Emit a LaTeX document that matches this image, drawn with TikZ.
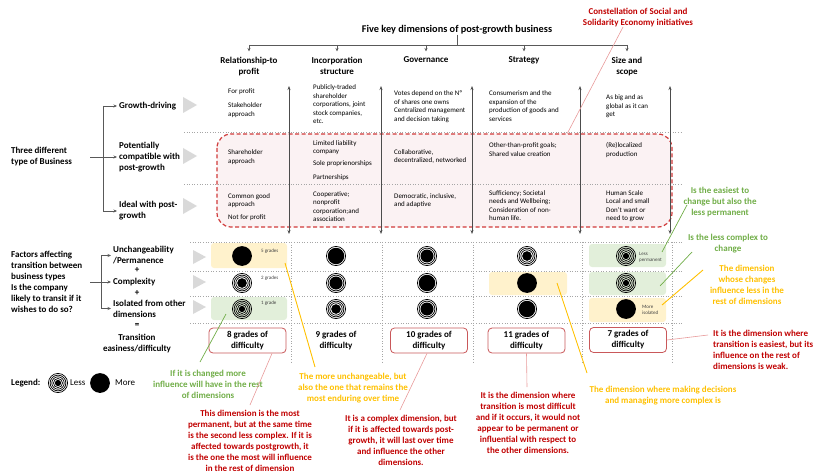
\documentclass[tikz,border=0pt]{standalone}
\usepackage{fontspec}
\setmainfont{Carlito}
\usetikzlibrary{arrows.meta}
\definecolor{txtred}{HTML}{C00000}
\definecolor{txtgreen}{HTML}{70AD47}
\definecolor{txtyellow}{HTML}{FFC000}
\definecolor{dashred}{HTML}{D03A3A}
\definecolor{pinkfill}{HTML}{FBF2F3}
\definecolor{yelfill}{HTML}{FFF2CC}
\definecolor{grnfill}{HTML}{E2EFDA}
\definecolor{boxred}{HTML}{C9585A}
\definecolor{linered}{HTML}{E89A9A}
\definecolor{trigray}{HTML}{D9D9D9}
\definecolor{dotgray}{HTML}{A6A6A6}
\definecolor{treegray}{HTML}{595959}
\tikzset{
  grade/.pic={
    \pgfmathtruncatemacro{\gnr}{5-#1}
    \ifnum\gnr>0
      \foreach \gi in {1,...,\gnr}{
        \pgfmathsetmacro{\grr}{9.6-(\gi-1)*1.7}
        \draw[line width=0.7pt] (0,0) circle[radius=\grr pt];
      }
      \pgfmathsetmacro{\gfr}{9.95-\gnr*1.7}
    \else
      \def\gfr{9.9}
    \fi
    \fill (0,0) circle[radius=\gfr pt];
  }
}
\begin{document}
\begin{tikzpicture}[x=1pt,y=-1pt,
  maintitle/.style={font=\fontsize{10.3}{12.5}\selectfont\bfseries, inner sep=0},
  colhead/.style={font=\fontsize{9}{11}\selectfont\bfseries, align=center, anchor=north, inner sep=0},
  rowlabel/.style={font=\fontsize{9}{11}\selectfont\bfseries, align=left, anchor=west, inner sep=0},
  plainlabel/.style={font=\fontsize{9}{11}\selectfont, anchor=west, inner sep=0},
  celltext/.style={font=\fontsize{7}{8.5}\selectfont, align=left, anchor=base west, inner sep=0},
  gradelabel/.style={font=\fontsize{5}{6.3}\selectfont, align=left, anchor=west, inner sep=0, text=black!75},
  annot/.style={font=\fontsize{9}{11}\selectfont\bfseries, align=center, inner sep=0},
  diffbox/.style={draw=boxred, line width=0.8pt, rounded corners=4pt, fill=white, minimum width=77pt, minimum height=25pt, font=\fontsize{9}{11}\selectfont\bfseries, align=center, inner sep=0},
  treeline/.style={draw=treegray, line width=0.6pt},
  treearrow/.style={treeline, -{Stealth[length=3.5pt,width=3pt]}},
  colarrow/.style={draw=black!70, line width=0.6pt, {Stealth[length=4pt,width=3pt]}-{Stealth[length=4pt,width=3pt]}},
  dotline/.style={draw=dotgray, line width=0.6pt, dotted},
  tri/.style={fill=trigray, draw=none},
  ybox/.style={fill=yelfill, draw=none, rounded corners=3pt},
  gbox/.style={fill=grnfill, draw=none, rounded corners=3pt},
  redline/.style={draw=linered, line width=0.6pt},
  grnline/.style={draw=txtgreen, line width=0.7pt},
  yelline/.style={draw=txtyellow, line width=0.9pt}
]
\useasboundingbox (0,0) rectangle (818,473);

% ---------- dashed area ----------
\draw[dashred, line width=1.2pt, dash pattern=on 4pt off 2.5pt, fill=pinkfill, rounded corners=14pt] (217,134) rectangle (672,227);

% ---------- dotted grid ----------
\foreach \yy in {132,184} \draw[dotline] (184,\yy) -- (683,\yy);
\foreach \yy in {242,271,296,323} \draw[dotline] (190,\yy) -- (683,\yy);
\foreach \xx in {291,382,473,582,672} \draw[dotline] (\xx,242) -- (\xx,362);

% ---------- coloured boxes ----------
\fill[ybox] (211,243) rectangle (287,268);
\fill[gbox] (211,297) rectangle (287,320);
\fill[ybox] (489,272) rectangle (567,295);
\fill[gbox] (589,244) rectangle (666,267);
\fill[gbox] (589,272) rectangle (666,295);
\fill[ybox] (589,298) rectangle (666,322);

% ---------- column arrows ----------
\foreach \xx in {289,381,472,580,670} \draw[colarrow] (\xx,86) -- (\xx,234);

% ---------- triangles ----------
\foreach \yy in {105,156,206} \fill[tri] (183,\yy-8) -- (197,\yy) -- (183,\yy+8) -- cycle;
\foreach \yy in {257,282,307} \fill[tri] (193,\yy-7) -- (206,\yy) -- (193,\yy+7) -- cycle;

% ---------- title and headers ----------
\node[maintitle] (title) at (457,30) {Five key dimensions of post-growth business};
\coordinate (tj) at (457,45);
\draw[treeline] (title.south) -- (tj);
\node[colhead] (h1) at (249,56.5) {Relationship-to\\profit};
\node[colhead] (h2) at (337,56.5) {Incorporation\\structure};
\node[colhead] (h3) at (426,56.5) {Governance};
\node[colhead] (h4) at (524,56.5) {Strategy};
\node[colhead] (h5) at (627,56.5) {Size and\\scope};
\draw[treeline] (h1.north |- tj) -- (h5.north |- tj);
\foreach \hh in {h1,h2,h3,h4,h5} \draw[treearrow, shorten >=5pt] (\hh.north |- tj) -- (\hh.north);

% ---------- left labels ----------
\node[rowlabel] (three) at (11,157) {Three different\\type of Business};
\node[rowlabel] (gd) at (119,106) {Growth-driving};
\node[rowlabel] (pc) at (119,157) {Potentially\\compatible with\\post-growth};
\node[rowlabel] (iw) at (119,211) {Ideal with post-\\growth};
\coordinate (t0) at (90,157);
\coordinate (tm) at (103,157);
\draw[treeline] (t0) -- (tm);
\draw[treeline] (gd.west -| tm) -- (iw.west -| tm);
\foreach \nn in {gd,pc,iw} \draw[treearrow] (\nn.west -| tm) -- ([xshift=-2]\nn.west);

\node[rowlabel] (fac) at (11,282) {Factors affecting\\transition between\\business types\\Is the company\\likely to transit if it\\wishes to do so?};
\node[rowlabel] (unch) at (113,255.5) {Unchangeability\\/Permanence};
\node[annot] (plus1) at (137,270) {+};
\node[rowlabel] (cplx) at (113,282) {Complexity};
\node[annot] (plus2) at (137,293) {+};
\node[rowlabel] (isol) at (113,308.5) {Isolated from other\\dimensions};
\node[annot] (eqs) at (137,325) {=};
\node[annot] (trans) at (137,343.5) {Transition\\easiness/difficulty};
\coordinate (f0) at (90,282);
\coordinate (fm) at (101,282);
\draw[treeline] (f0) -- (fm);
\draw[treeline] (unch.west -| fm) -- (isol.west -| fm);
\foreach \nn in {unch,cplx,isol} \draw[treearrow] (\nn.west -| fm) -- ([xshift=-2]\nn.west);

% ---------- cells: growth-driving (base = last line) ----------
\node[celltext] (g1a) at (228,94) {For profit};
\node[celltext] (g1b) at (228,116.5) {Stakeholder\\approach};
\node[celltext] (g2) at (313,124) {Publicly-traded\\shareholder\\corporations, joint\\stock companies,\\etc.};
\node[celltext] (g3) at (394,121.5) {Votes depend on the Nº\\of shares one owns\\Centralized management\\and decision taking};
\node[celltext] (g4) at (489,121.5) {Consumerism and the\\expansion of the\\production of goods and\\services};
\node[celltext] (g5) at (606,117) {As big and as\\global as it can\\get};

% ---------- cells: potentially compatible ----------
\node[celltext] (p1) at (228,163.5) {Shareholder\\approach};
\node[celltext] (p2a) at (313,153.5) {Limited liability\\company};
\node[celltext] (p2b) at (313,165) {Sole proprienorships};
\node[celltext] (p2c) at (313,179) {Partnerships};
\node[celltext] (p3) at (394,162.5) {Collaborative,\\decentralized, networked};
\node[celltext] (p4) at (489,156.5) {Other-than-profit goals;\\Shared value creation};
\node[celltext] (p5) at (606,156.5) {(Re)localized\\production};

% ---------- cells: ideal ----------
\node[celltext] (i1a) at (228,206.5) {Common good\\approach};
\node[celltext] (i1b) at (228,219) {Not for profit};
\node[celltext] (i2) at (313,221.5) {Cooperative;\\nonprofit\\corporation;and\\association};
\node[celltext] (i3) at (394,206.5) {Democratic, inclusive,\\and adaptive};
\node[celltext] (i4) at (489,220.5) {Sufficiency; Societal\\needs and Wellbeing;\\Consideration of non-\\human life.};
\node[celltext] (i5) at (606,220.5) {Human Scale\\Local and small\\Don't want or\\need to grow};

% ---------- grade symbols ----------
\pic at (242,256) {grade=5};
\pic at (242,283) {grade=2};
\pic at (242,309) {grade=1};
\pic at (336,256) {grade=4};
\pic at (336,283) {grade=3};
\pic at (336,309) {grade=2};
\pic at (427,256) {grade=3};
\pic at (427,283) {grade=4};
\pic at (427,309) {grade=3};
\pic at (527,256) {grade=2};
\pic at (527,283) {grade=5};
\pic at (527,309) {grade=4};
\pic at (626,256) {grade=1};
\pic at (626,283) {grade=1};
\pic at (626,309) {grade=5};
\node[gradelabel] (gl5) at (261,251) {5 grades};
\node[gradelabel] (gl2) at (261,278) {2 grades};
\node[gradelabel] (gl1) at (261,303) {1 grade};
\node[gradelabel] (glless) at (639,257) {Less\\permanent};
\node[gradelabel] (glmore) at (642,310) {More\\isolated};

% ---------- difficulty ----------
\node[diffbox] (d1) at (247.5,340.5) {8 grades of\\difficulty};
\node[diffbox, draw=none, fill=none] (d2) at (336,340.5) {9 grades of\\difficulty};
\node[diffbox] (d3) at (429,340.5) {10 grades of\\difficulty};
\node[diffbox] (d4) at (526.5,340.5) {11 grades of\\difficulty};
\node[diffbox] (d5) at (628,340) {7 grades of\\difficulty};

% ---------- legend ----------
\node[rowlabel] (leg) at (11,383) {Legend:};
\pic at (58,383) {grade=1};
\node[plainlabel] (less) at (70,383) {Less};
\pic at (100,383) {grade=5};
\node[plainlabel] (more) at (115,383) {More};

% ---------- annotations ----------
\node[annot, text=txtred] (const) at (638,17.5) {Constellation of Social and\\Solidarity Economy initiatives};
\coordinate (constend) at (567,134);
\draw[redline] ([xshift=-15]const.south) -- (constend);

\node[annot, text=txtgreen] (ag1) at (720,202) {Is the easiest to\\change but also the\\less permanent};
\coordinate (ag1s) at (687,205); \coordinate (ag1e) at (662,252);
\draw[grnline] (ag1s) -- (ag1e);

\node[annot, text=txtgreen] (ag2) at (728,243.5) {Is the less complex to\\change};
\coordinate (ag2s) at (692,252); \coordinate (ag2e) at (660,286);
\draw[grnline] (ag2s) -- (ag2e);

\node[annot, text=txtyellow] (ay1) at (747,284.5) {The dimension\\whose changes\\influence less in the\\rest of dimensions};
\coordinate (ay1s) at (703,270); \coordinate (ay1e) at (662,305);
\draw[yelline] (ay1s) -- (ay1e);

\node[annot, text=txtred, align=left, anchor=west] (ar5) at (713,350) {It is the dimension where\\transition is easiest, but its\\influence on the rest of\\dimensions is weak.};
\coordinate (ar5s) at (708,335);
\draw[redline] (ar5s) -- (d5.east);

\node[annot, text=txtgreen] (ag3) at (208,384) {If it is changed more\\influence will have in the rest\\of dimensions};
\coordinate (ag3s) at (200,362); \coordinate (ag3e) at (226,314);
\draw[grnline] (ag3s) -- (ag3e);

\node[annot, text=txtyellow] (ay2) at (353,388) {The more unchangeable, but\\also the one that remains the\\most enduring over time};
\coordinate (ay2s) at (315,367); \coordinate (ay2e) at (285,263);
\draw[yelline] (ay2s) -- (ay2e);

\node[annot, text=txtred] (ar1) at (250,441) {This dimension is the most\\permanent, but at the same time\\is the second less complex. If it is\\affected towards postgrowth, it\\is the one the most will influence\\in the rest of dimension};
\coordinate (ar1s) at (250,405);
\draw[redline] (ar1s) -- ([xshift=24.5]d1.south);

\node[annot, text=txtred] (ar3) at (401,440) {It is a complex dimension, but\\if it is affected towards post-\\growth, it will last over time\\and influence the other\\dimensions.};
\coordinate (ar3s) at (400,410);
\draw[redline] (ar3s) -- ([xshift=-2]d3.south);

\node[annot, text=txtred] (ar4) at (528,422.5) {It is the dimension where\\transition is most difficult\\and if it occurs, it would not\\appear to be permanent or\\influential with respect to\\the other dimensions.};
\coordinate (ar4s) at (527,387);
\draw[redline] (ar4s) -- (d4.south);

\node[annot, text=txtyellow] (ay3) at (663,396) {The dimension where making decisions\\and managing more complex is};
\coordinate (ay3s) at (587,373); \coordinate (ay3e) at (557,283);
\draw[yelline] (ay3s) -- (ay3e);

\end{tikzpicture}
\end{document}
